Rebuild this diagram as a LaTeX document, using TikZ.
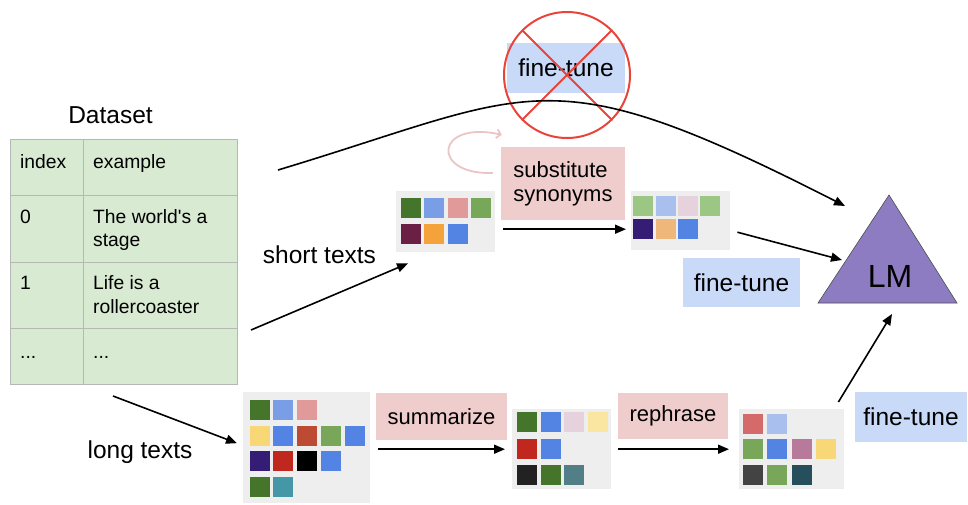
\documentclass[tikz,border=0pt]{standalone}
\usepackage{fontspec}
\setmainfont{Liberation Sans}[Ligatures=TeXOff]
\usetikzlibrary{arrows.meta,calc}

\definecolor{tblfill}{HTML}{D9EAD3}
\definecolor{tblline}{HTML}{B7B7B7}
\definecolor{boxgray}{HTML}{EEEEEE}
\definecolor{pinklab}{HTML}{F0CDCD}
\definecolor{bluelab}{HTML}{C9DAF8}
\definecolor{lmfill}{HTML}{8E7CC3}
\definecolor{xred}{HTML}{E8443A}
\definecolor{looppink}{HTML}{EBC5C5}
% square colours
\definecolor{cdg}{HTML}{45752A}
\definecolor{clb}{HTML}{7A9EE6}
\definecolor{cpk}{HTML}{E09A9A}
\definecolor{cgr}{HTML}{78A75A}
\definecolor{cmg}{HTML}{6A1F44}
\definecolor{cor}{HTML}{F4A23A}
\definecolor{cbl}{HTML}{5484E3}
\definecolor{clg}{HTML}{9BC684}
\definecolor{clb2}{HTML}{A9C0EF}
\definecolor{clm}{HTML}{E6D2DD}
\definecolor{cdp}{HTML}{351C75}
\definecolor{clo}{HTML}{EFB87A}
\definecolor{cyl}{HTML}{F8D776}
\definecolor{crb}{HTML}{BD4B33}
\definecolor{crd}{HTML}{C0271F}
\definecolor{cbk}{HTML}{000000}
\definecolor{ctl}{HTML}{4397A6}
\definecolor{cly}{HTML}{FAE6A0}
\definecolor{cdk}{HTML}{222222}
\definecolor{cdc}{HTML}{527F87}
\definecolor{clr}{HTML}{D46A6A}
\definecolor{cml}{HTML}{B87A9A}
\definecolor{cgy}{HTML}{434343}
\definecolor{cdc3}{HTML}{264F5C}

\newcommand{\csq}[3]{\fill[#3] (#1,#2) rectangle ++(20,20);}

\begin{document}
\begin{tikzpicture}[x=1pt,y=-1pt,
  arr/.style={-{Triangle[length=11pt,width=9pt]}, line width=1.6pt, black},
  gbox/.style={fill=boxgray, draw=none, inner sep=0pt, anchor=north west},
  plab/.style={fill=pinklab, draw=none, inner sep=0pt, font=\fontsize{22}{24}\selectfont},
  blab/.style={fill=bluelab, draw=none, inner sep=0pt, font=\fontsize{24.5}{28}\selectfont},
  ttxt/.style={anchor=base west, inner sep=0pt, font=\fontsize{19.3}{23}\selectfont},
  btxt/.style={anchor=base, inner sep=0pt, font=\fontsize{24.5}{28}\selectfont}
]
\useasboundingbox (0,0) rectangle (968,504);

% ---------- Dataset table ----------
\node[btxt] (dstitle) at (110.5,123) {Dataset};
\node[fill=tblfill, draw=tblline, line width=1pt, inner sep=0pt, anchor=north west,
      minimum width=227pt, minimum height=245pt] (tbl) at (10,139) {};
\draw[tblline, line width=1pt] (83,139) -- (83,384);
\draw[tblline, line width=1pt] (10,195) -- (237,195);
\draw[tblline, line width=1pt] (10,262) -- (237,262);
\draw[tblline, line width=1pt] (10,328) -- (237,328);
\node[ttxt] (h1) at (20,168) {index};
\node[ttxt] (h2) at (93,168) {example};
\node[ttxt] (r0a) at (20,223) {0};
\node[ttxt] (r0b) at (93,223) {The world's a};
\node[ttxt] (r0c) at (93,246) {stage};
\node[ttxt] (r1a) at (20,289) {1};
\node[ttxt] (r1b) at (93,289) {Life is a};
\node[ttxt] (r1c) at (93,313) {rollercoaster};
\node[ttxt] (r2a) at (20,358) {...};
\node[ttxt] (r2b) at (93,358) {...};

% ---------- grey token boxes ----------
\node[gbox, minimum width=99pt, minimum height=61pt] (sb) at (396,191) {};
\node[gbox, minimum width=99pt, minimum height=59pt] (ab) at (631,191) {};
\node[gbox, minimum width=127pt, minimum height=111pt] (lb) at (243,392) {};
\node[gbox, minimum width=99pt, minimum height=80pt] (smb) at (512,409) {};
\node[gbox, minimum width=105pt, minimum height=80pt] (rb) at (739,409) {};

% short texts squares
\csq{401}{198}{cdg}\csq{424}{198}{clb}\csq{448}{198}{cpk}\csq{471}{198}{cgr}
\csq{401}{224}{cmg}\csq{424}{224}{cor}\csq{448}{224}{cbl}
% after synonyms
\csq{633}{196}{clg}\csq{656}{196}{clb2}\csq{678}{196}{clm}\csq{700}{196}{clg}
\csq{633}{219}{cdp}\csq{656}{219}{clo}\csq{678}{219}{cbl}
% long texts
\csq{250}{400}{cdg}\csq{273}{400}{clb}\csq{297}{400}{cpk}
\csq{250}{426}{cyl}\csq{273}{426}{cbl}\csq{297}{426}{crb}\csq{321}{426}{cgr}\csq{345}{426}{cbl}
\csq{250}{451}{cdp}\csq{273}{451}{crd}\csq{297}{451}{cbk}\csq{321}{451}{cbl}
\csq{250}{477}{cdg}\csq{273}{477}{ctl}
% summarized
\csq{517}{412}{cdg}\csq{541}{412}{cbl}\csq{564}{412}{clm}\csq{588}{412}{cly}
\csq{517}{439}{crd}\csq{541}{439}{cbl}
\csq{517}{465}{cdk}\csq{541}{465}{cdg}\csq{564}{465}{cdc}
% rephrased
\csq{743}{414}{clr}\csq{767}{414}{clb2}
\csq{743}{439}{cgr}\csq{767}{439}{cbl}\csq{792}{439}{cml}\csq{816}{439}{cyl}
\csq{743}{465}{cgy}\csq{767}{465}{cgr}\csq{792}{465}{cdc3}

% ---------- labels ----------
\node[plab, minimum width=124pt, minimum height=73pt, align=left] (subst) at (563,183.5) {substitute\\synonyms};
\node[plab, minimum width=131pt, minimum height=47pt] (summ) at (441.5,416.5) {summarize};
\node[plab, minimum width=110pt, minimum height=46pt] (reph) at (673,416) {rephrase};
\node[blab, minimum width=118pt, minimum height=50pt] (ftx) at (566,68) {fine-tune};
\node[blab, minimum width=117pt, minimum height=49pt] (ftm) at (741.5,282.5) {fine-tune};
\node[blab, minimum width=112pt, minimum height=50pt] (ftb) at (911,417) {fine-tune};
\node[btxt] (shortt) at (319.5,263) {short texts};
\node[btxt] (longt) at (140,458.5) {long texts};

% crossed-out circle
\node[circle, draw=xred, line width=2pt, minimum size=126pt, inner sep=0pt] (nocirc) at (567,75) {};
\draw[xred, line width=2pt] (nocirc.north west) -- (nocirc.south east);
\draw[xred, line width=2pt] (nocirc.north east) -- (nocirc.south west);

% ---------- LM triangle ----------
\coordinate (lmA) at (889,195);
\coordinate (lmB) at (818,303);
\coordinate (lmC) at (957,303);
\draw[fill=lmfill, draw=black!70, line width=0.6pt] (lmA) -- (lmB) -- (lmC) -- cycle;
\node[inner sep=0pt, font=\fontsize{32}{36}\selectfont] (lm) at (890,276.5) {LM};
\coordinate (lmin1) at (845,206);
\coordinate (lmin2) at (842,260);
\coordinate (lmin3) at (892,314);

% ---------- connectors ----------
\draw[arr] ($(tbl.north east)+(40,31)$) .. controls (537,92) and (545,53) .. (lmin1);
\draw[arr] ($(tbl.south east)+(13,-55)$) -- ($(sb.south west)+(12,11)$);
\draw[arr] ($(tbl.south west)+(103,11)$) -- ($(lb.west)+(-6,-4.5)$);
\draw[arr] ($(sb.east)+(8,7.5)$) -- ($(ab.west)+(-5,8.5)$);
\draw[arr] ($(ab.east)+(7,11.5)$) -- (lmin2);
\draw[arr] ($(lb.east)+(8,1.5)$) -- ($(smb.west)+(-7,0)$);
\draw[arr] ($(smb.east)+(7,0)$) -- ($(rb.west)+(-10,0)$);
\draw[arr] ($(rb.north east)+(-6,-7)$) -- (lmin3);
\draw[looppink, line width=1.8pt, -{Straight Barb[length=4pt,width=9pt]}]
  ($(subst.west)+(-8,-10.5)$) .. controls (430,175) and (435,120) .. ($(subst.north west)+(1,-12)$);
\end{tikzpicture}
\end{document}
